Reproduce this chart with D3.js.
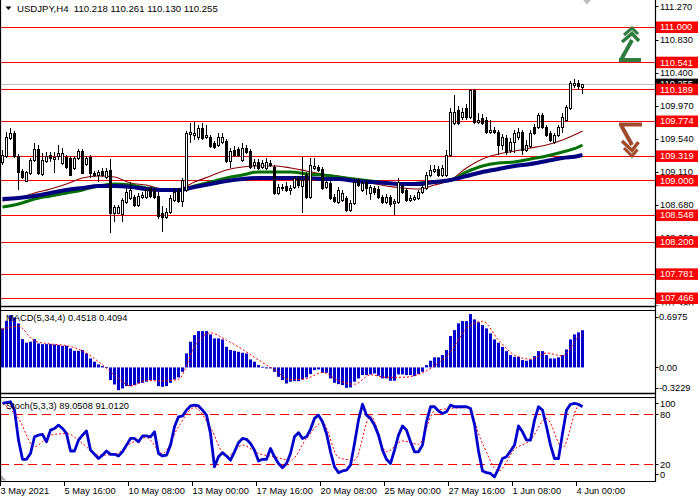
<!DOCTYPE html>
<html><head><meta charset="utf-8">
<script src="https://cdn.jsdelivr.net/npm/d3@7"></script>
<style>body{margin:0;background:#fff}svg{display:block}text{font-family:"Liberation Sans",Arial,sans-serif;font-size:9.3px}</style>
</head><body><svg id="c" width="700" height="500"></svg>
<script>
// ---------- DATA ----------
const titleText = "USDJPY,H4  110.218 110.261 110.130 110.255";
const macdTitle = "MACD(5,34,4) 0.4518 0.4094";
const stochTitle = "Stoch(5,3,3) 89.0508 91.0120";
const timeLabelIdx = [0,16,32,48,64,80,96,112,128,144];
const timeLabels = ["3 May 2021","5 May 16:00","10 May 08:00","13 May 00:00","17 May 16:00","20 May 08:00","25 May 00:00","27 May 16:00","1 Jun 08:00","4 Jun 00:00"];
const priceTicks = [111.270,110.830,110.400,109.970,109.540,109.110,108.680,108.250,107.380];
const levels = [111.000,110.541,110.189,109.774,109.319,109.000,108.548,108.200,107.781,107.466];
const lastPrice = 110.255;
const macdLabels = [0.6975,0.00,-0.3229];
const macdLabelText = ["0.6975","0.00","-0.3229"];
const stochLevels = [80,20];
const stochLabels = [100,80,20,0];

const openP = [109.240,109.318,109.553,109.618,109.318,109.123,108.992,109.097,109.266,109.409,
109.084,109.253,109.331,109.279,109.318,109.227,109.305,109.292,109.162,109.292,
109.383,109.214,109.305,109.097,109.070,109.123,109.044,109.136,108.575,108.575,
108.562,108.718,108.771,108.784,108.679,108.784,108.784,108.901,108.875,108.797,
108.575,108.523,108.588,108.744,108.875,108.731,108.875,109.605,109.592,109.566,
109.683,109.566,109.566,109.488,109.462,109.501,109.514,109.253,109.396,109.409,
109.266,109.422,109.383,109.201,109.240,109.175,109.162,109.227,109.175,108.836,
108.901,108.927,108.875,108.914,109.031,108.927,109.070,108.784,109.162,109.175,
109.149,108.914,108.966,108.784,108.718,108.744,108.771,108.614,108.705,109.005,
108.875,108.979,108.836,108.901,108.888,108.784,108.718,108.784,108.705,108.718,
108.927,108.875,108.744,108.757,108.771,108.849,108.901,109.070,109.123,109.149,
109.070,109.070,109.331,109.748,109.918,109.827,109.944,109.827,110.179,109.761,
109.814,109.787,109.631,109.657,109.631,109.462,109.553,109.396,109.501,109.566,
109.631,109.396,109.448,109.696,109.696,109.853,109.696,109.618,109.501,109.592,
109.696,109.787,109.944,110.244,110.270,110.218];
const highP = [109.396,109.631,109.683,109.644,109.344,109.149,109.123,109.292,109.488,109.462,
109.357,109.370,109.370,109.370,109.462,109.422,109.331,109.318,109.318,109.409,
109.409,109.318,109.331,109.123,109.136,109.162,109.162,109.279,108.679,108.679,
108.771,108.901,108.979,108.810,108.836,108.849,108.901,108.927,108.901,108.849,
108.666,108.640,108.810,108.901,108.901,109.031,109.644,109.748,109.761,109.722,
109.748,109.722,109.592,109.514,109.618,109.618,109.540,109.422,109.448,109.435,
109.488,109.462,109.409,109.279,109.279,109.266,109.292,109.266,109.201,108.953,
108.953,108.979,108.940,109.057,109.057,109.305,109.110,109.292,109.292,109.201,
109.175,109.005,108.992,108.823,108.914,108.875,108.797,108.744,109.031,109.031,
108.992,109.005,108.940,108.927,108.927,108.810,108.823,108.810,108.757,109.031,
108.953,108.901,108.810,108.810,108.875,108.953,109.110,109.201,109.201,109.188,
109.201,109.396,109.944,110.113,109.970,109.944,109.996,110.192,110.192,109.879,
109.866,109.827,109.787,109.696,109.657,109.605,109.592,109.553,109.657,109.683,
109.657,109.527,109.657,109.735,109.879,109.879,109.722,109.644,109.618,109.722,
109.879,109.983,110.296,110.322,110.309,110.261];
const lowP = [109.201,109.292,109.527,109.292,108.875,109.018,108.979,109.070,109.240,109.070,
109.057,109.227,109.240,109.097,109.266,109.201,109.149,109.057,109.136,109.266,
109.084,109.188,109.031,109.044,108.979,109.044,109.018,108.314,108.457,108.562,
108.457,108.692,108.744,108.653,108.653,108.757,108.757,108.771,108.757,108.497,
108.327,108.497,108.562,108.718,108.705,108.653,108.849,109.488,109.527,109.527,
109.527,109.540,109.422,109.409,109.435,109.475,109.227,109.162,109.305,109.305,
109.240,109.344,109.149,109.149,109.136,109.149,109.136,109.175,108.810,108.810,
108.862,108.849,108.810,108.888,108.901,108.575,108.757,108.757,109.136,109.110,
108.875,108.888,108.744,108.705,108.692,108.718,108.588,108.588,108.679,108.914,
108.849,108.810,108.744,108.810,108.757,108.692,108.692,108.653,108.549,108.692,
108.823,108.718,108.718,108.731,108.744,108.823,108.875,109.044,109.097,109.044,
109.044,109.044,109.305,109.722,109.722,109.787,109.787,109.800,109.735,109.735,
109.722,109.605,109.605,109.605,109.331,109.396,109.331,109.357,109.357,109.527,
109.331,109.370,109.422,109.592,109.670,109.670,109.566,109.501,109.475,109.566,
109.618,109.761,109.918,110.205,110.179,110.130];
const closeP = [109.331,109.566,109.618,109.318,109.110,109.044,109.110,109.266,109.409,109.097,
109.266,109.318,109.292,109.305,109.357,109.357,109.175,109.070,109.292,109.383,
109.097,109.292,109.097,109.070,109.110,109.070,109.123,108.575,108.653,108.653,
108.744,108.849,108.875,108.679,108.797,108.810,108.875,108.797,108.784,108.536,
108.523,108.588,108.771,108.849,108.731,109.005,109.618,109.631,109.618,109.683,
109.553,109.592,109.448,109.435,109.566,109.566,109.253,109.383,109.331,109.331,
109.422,109.370,109.175,109.240,109.162,109.227,109.240,109.201,108.836,108.914,
108.914,108.875,108.901,109.031,108.940,109.005,108.784,109.201,109.188,109.136,
108.901,108.979,108.771,108.731,108.875,108.836,108.614,108.705,108.979,108.940,
108.966,108.901,108.914,108.849,108.784,108.718,108.784,108.692,108.731,108.979,
108.849,108.744,108.771,108.784,108.849,108.914,109.070,109.136,109.149,109.070,
109.162,109.331,109.892,109.892,109.748,109.892,109.827,110.179,109.761,109.787,
109.748,109.631,109.657,109.631,109.462,109.566,109.370,109.501,109.618,109.631,
109.396,109.462,109.618,109.618,109.853,109.696,109.592,109.527,109.592,109.696,
109.827,109.957,110.270,110.270,110.231,110.255];

// moving averages sampled every 4 bars (bar index in maIdx)
const maIdx = [0,4,8,12,16,20,24,28,32,36,40,44,48,52,56,60,64,68,72,76,80,84,88,92,96,100,104,108,112,116,120,124,128,132,136,140,144,145];
const maFast = [108.731,108.771,108.836,108.888,108.953,109.031,109.057,109.044,108.966,108.940,
108.888,108.888,108.979,109.057,109.136,109.175,109.188,109.188,109.162,109.123,
109.084,109.057,109.018,108.966,108.927,108.901,108.888,108.940,109.005,109.162,
109.279,109.344,109.383,109.422,109.462,109.527,109.618,109.644];
const maMid = [108.653,108.692,108.757,108.797,108.836,108.875,108.927,108.953,108.940,108.901,
108.875,108.875,108.927,108.979,109.031,109.070,109.110,109.110,109.110,109.084,
109.070,109.044,109.018,108.992,108.966,108.953,108.966,108.979,109.005,109.110,
109.188,109.227,109.240,109.279,109.318,109.370,109.435,109.462];
const maSlow = [108.757,108.771,108.797,108.836,108.875,108.901,108.927,108.927,108.914,108.888,
108.875,108.875,108.914,108.953,108.992,109.018,109.031,109.031,109.031,109.031,
109.018,109.018,108.992,108.979,108.966,108.953,108.953,108.979,109.005,109.057,
109.110,109.149,109.188,109.214,109.253,109.292,109.318,109.331];

const macdHist = [0.474,0.566,0.635,0.607,0.534,0.344,0.300,0.312,0.344,0.291,
0.283,0.283,0.283,0.279,0.271,0.263,0.263,0.231,0.202,0.202,
0.211,0.170,0.109,0.069,0.036,0.016,0.006,-0.154,-0.207,-0.276,
-0.255,-0.227,-0.227,-0.215,-0.195,-0.187,-0.174,-0.154,-0.154,-0.227,
-0.235,-0.227,-0.187,-0.146,-0.122,-0.053,0.170,0.312,0.393,0.441,
0.441,0.441,0.401,0.352,0.352,0.340,0.251,0.211,0.202,0.190,
0.178,0.170,0.097,0.069,0.028,0.008,-0.012,-0.012,-0.053,-0.114,
-0.154,-0.195,-0.174,-0.167,-0.167,-0.146,-0.122,-0.081,-0.033,-0.025,
-0.065,-0.065,-0.134,-0.187,-0.203,-0.215,-0.248,-0.243,-0.174,-0.134,
-0.093,-0.093,-0.085,-0.073,-0.101,-0.134,-0.134,-0.162,-0.162,-0.085,
-0.085,-0.093,-0.093,-0.106,-0.081,-0.053,0.028,0.081,0.122,0.122,
0.150,0.211,0.381,0.453,0.535,0.563,0.563,0.648,0.583,0.550,
0.514,0.474,0.413,0.340,0.300,0.250,0.198,0.150,0.129,0.129,
0.089,0.081,0.097,0.137,0.198,0.198,0.150,0.109,0.109,0.122,
0.150,0.218,0.340,0.401,0.426,0.4518];
const macdSignal = [0.463,0.50,0.32,0.285,0.265,0.20,0.07,-0.092,-0.225,-0.16,
-0.165,-0.145,0.252,0.42,0.33,0.22,0.09,-0.03,-0.15,-0.135,
-0.06,-0.16,-0.205,-0.09,-0.12,-0.12,-0.085,0.02,0.19,0.47,
0.56,0.333,0.15,0.10,0.175,0.14,0.37,0.4094];

const stochMain = [93,94,95,85,49,26,26,33,53,55,
56,47,61,63,67,63,57,36,36,49,
55,60,37,32,27,31,36,32,32,30,
35,43,51,51,47,54,54,53,59,33,
30,31,43,65,77,78,85,90,91,90,
85,79,57,17,29,34,30,25,35,46,
51,50,45,37,24,26,26,39,29,21,
16,21,33,53,58,51,53,62,75,79,
71,57,35,17,10,12,13,19,45,73,
92,79,75,67,55,37,26,21,37,55,
66,61,47,35,35,43,71,89,89,84,
81,83,91,89,89,89,89,87,68,36,
12,10,9,5,15,27,29,36,43,66,
59,49,49,73,89,85,65,43,27,27,
57,85,92,93,92,89.0508];
const stochSignal = [93,75,41,55,57,45,31,32,45,52,
33,65,88,64,29,43,33,29,25,51,
70,28,25,78,35,48,44,84,87,88,
45,12,38,49,75,40,90,91.012];

// ---------- DRAW ----------
const svg = d3.select("#c");
const AX = 655.5;               // right axis line

const xs = d3.scaleLinear().domain([0,145]).range([2.5,582.5]);
const ys = d3.scaleLinear().domain([107.349,111.352]).range([307,0]);
const ym = d3.scaleLinear().domain([-0.3229,0.6975]).range([394,310]);
const yst = d3.scaleLinear().domain([0,100]).range([481,397.6]);

const defs = svg.append("defs");
defs.append("clipPath").attr("id","cm").append("rect").attr("x",1).attr("y",0).attr("width",AX-1).attr("height",306);
defs.append("clipPath").attr("id","cmr").append("rect").attr("x",AX).attr("y",0).attr("width",50).attr("height",305.5);
defs.append("clipPath").attr("id","cd").append("rect").attr("x",1).attr("y",311).attr("width",AX-1).attr("height",82);
defs.append("clipPath").attr("id","cs").append("rect").attr("x",1).attr("y",398).attr("width",AX-1).attr("height",82.5);

// ---- main panel
const gm = svg.append("g").attr("clip-path","url(#cm)");
gm.selectAll("line.lvl").data(levels).join("line")
  .attr("x1",0).attr("x2",AX).attr("y1",d=>Math.round(ys(d))+0.5).attr("y2",d=>Math.round(ys(d))+0.5)
  .attr("stroke","#ff0000").attr("stroke-width",1);
gm.append("line").attr("x1",0).attr("x2",AX).attr("y1",Math.round(ys(lastPrice))+0.5).attr("y2",Math.round(ys(lastPrice))+0.5)
  .attr("stroke","#c0c0c0").attr("stroke-width",1);

const maLine = d3.line().x((d,k)=>xs(maIdx[k])).y(d=>ys(d)).curve(d3.curveMonotoneX);
gm.append("path").attr("d",maLine(maFast)).attr("fill","none").attr("stroke","#8b0000").attr("stroke-width",1.1);
gm.append("path").attr("d",maLine(maMid)).attr("fill","none").attr("stroke","#007000").attr("stroke-width",3);
gm.append("path").attr("d",maLine(maSlow)).attr("fill","none").attr("stroke","#000080").attr("stroke-width",4);

const bars = d3.range(openP.length).map(i=>({i,o:openP[i],h:highP[i],l:lowP[i],c:closeP[i]}));
gm.selectAll("line.wick").data(bars).join("line")
  .attr("x1",d=>xs(d.i)).attr("x2",d=>xs(d.i))
  .attr("y1",d=>Math.round(ys(d.h))).attr("y2",d=>Math.round(ys(d.l)))
  .attr("stroke","#000").attr("stroke-width",1);
const bt = d=>Math.round(ys(Math.max(d.o,d.c)));
const bb = d=>Math.round(ys(Math.min(d.o,d.c)));
gm.selectAll("rect.body").data(bars).join("rect")
  .attr("x",d=>xs(d.i)-1.5).attr("width",3)
  .attr("y",bt).attr("height",d=>Math.max(1,bb(d)-bt(d)+1)).attr("fill","#000");
gm.selectAll("rect.inner").data(bars.filter(d=>d.c>d.o && bb(d)-bt(d)>=2)).join("rect")
  .attr("x",d=>xs(d.i)-0.5).attr("width",1)
  .attr("y",d=>bt(d)+1).attr("height",d=>bb(d)-bt(d)-1).attr("fill","#fff");

// gray chart-shift marker
svg.append("path").attr("d","M583,0 L591,0 L587,4.5 Z").attr("fill","#bdbdbd");

// arrows
const ga = svg.append("g").attr("fill","none").attr("stroke-linecap","butt").attr("stroke-linejoin","miter");
ga.append("path").attr("d","M619,60 L641,60").attr("stroke","#2e7d3e").attr("stroke-width",4);
ga.append("path").attr("d","M621.5,59 L632,40").attr("stroke","#2e7d3e").attr("stroke-width",4);
ga.append("path").attr("d","M622,42 L632,33.5 L639,41").attr("stroke","#2e7d3e").attr("stroke-width",3.5);
ga.append("path").attr("d","M624,35 L632,28 L638,34").attr("stroke","#2e7d3e").attr("stroke-width",3);
ga.append("path").attr("d","M619,124.5 L642,124.5").attr("stroke","#a04a2c").attr("stroke-width",4);
ga.append("path").attr("d","M621.5,126 L632,145").attr("stroke","#a04a2c").attr("stroke-width",4);
ga.append("path").attr("d","M622,141 L632,150.5 L638.5,142").attr("stroke","#a04a2c").attr("stroke-width",3.5);
ga.append("path").attr("d","M624,148 L632,156 L637.5,149.5").attr("stroke","#a04a2c").attr("stroke-width",3);

// right price axis labels
const gr = svg.append("g").attr("clip-path","url(#cmr)");
gr.selectAll("text.pt").data(priceTicks).join("text")
  .attr("x",660).attr("y",d=>ys(d)+3.3).text(d=>d.toFixed(3)).attr("fill","#000");
gr.selectAll("line.pt").data(priceTicks).join("line")
  .attr("x1",AX).attr("x2",AX+3).attr("y1",d=>Math.round(ys(d))+0.5).attr("y2",d=>Math.round(ys(d))+0.5).attr("stroke","#000");
// current price box
const yl = ys(lastPrice);
gr.append("rect").attr("x",656).attr("y",yl-5.5).attr("width",42).attr("height",11.5).attr("fill","#000");
gr.append("text").attr("x",660).attr("y",yl+3.3).attr("fill","#fff").text(lastPrice.toFixed(3));
// level boxes
gr.selectAll("rect.lv").data(levels).join("rect")
  .attr("x",656).attr("y",d=>ys(d)-5.5).attr("width",42).attr("height",11.5).attr("fill","#ff0000");
gr.selectAll("text.lv").data(levels).join("text")
  .attr("x",660).attr("y",d=>ys(d)+3.4).attr("fill","#fff").text(d=>d.toFixed(3));

// title
svg.append("path").attr("d","M5.5,6.5 L11.5,6.5 L8.5,10 Z").attr("fill","#000");
svg.append("text").attr("x",17).attr("y",12).text(titleText).attr("fill","#000").style("white-space","pre").style("font-size","9.6px");

// ---- MACD panel
const gd = svg.append("g").attr("clip-path","url(#cd)");
const z0 = ym(0);
gd.selectAll("rect.h").data(macdHist).join("rect")
  .attr("x",(d,i)=>xs(i)-1.5).attr("width",3)
  .attr("y",d=>Math.min(ym(d),z0)).attr("height",d=>Math.max(0.8,Math.abs(ym(d)-z0)))
  .attr("fill","#0000cd");
gd.append("path").attr("d",d3.line().x((d,k)=>xs(maIdx[k])).y(d=>ym(d)).curve(d3.curveMonotoneX)(macdSignal))
  .attr("fill","none").attr("stroke","#ff0000").attr("stroke-width",1).attr("stroke-dasharray","2,2");
svg.append("text").attr("x",6).attr("y",321).text(macdTitle).attr("fill","#000");
const macdLabY = [ym(macdLabels[0])+10.2, ym(macdLabels[1])+3.3, ym(macdLabels[2])-3];
svg.selectAll("text.ml").data(macdLabelText).join("text")
  .attr("x",659).attr("y",(d,i)=>macdLabY[i]).text(d=>d).attr("fill","#000");
svg.selectAll("line.ml").data(macdLabY).join("line")
  .attr("x1",AX).attr("x2",AX+3).attr("y1",d=>Math.round(d-3.3)+0.5).attr("y2",d=>Math.round(d-3.3)+0.5).attr("stroke","#000");

// ---- Stoch panel
const gs = svg.append("g").attr("clip-path","url(#cs)");
gs.selectAll("line.sl").data(stochLevels).join("line")
  .attr("x1",0).attr("x2",AX).attr("y1",d=>Math.round(yst(d))+0.5).attr("y2",d=>Math.round(yst(d))+0.5)
  .attr("stroke","#ff0000").attr("stroke-width",1.2).attr("stroke-dasharray","9,5");
gs.append("path").attr("d",d3.line().x((d,k)=>xs(maIdx[k])).y(d=>yst(d)).curve(d3.curveMonotoneX)(stochSignal))
  .attr("fill","none").attr("stroke","#ff0000").attr("stroke-width",1).attr("stroke-dasharray","2,2");
gs.append("path").attr("d",d3.line().x((d,i)=>xs(i)).y(d=>yst(d))(stochMain))
  .attr("fill","none").attr("stroke","#0000cd").attr("stroke-width",2.8).attr("stroke-linejoin","round");
svg.append("text").attr("x",6).attr("y",409).text(stochTitle).attr("fill","#000");
const stLabY = [yst(100)+9, yst(80)+3.3, yst(20)+3.3, yst(0)-3.4];
svg.selectAll("text.stl").data(stochLabels).join("text")
  .attr("x",660).attr("y",(d,i)=>stLabY[i]).text(d=>d).attr("fill","#000");
svg.selectAll("line.stl").data(stLabY).join("line")
  .attr("x1",AX).attr("x2",AX+3).attr("y1",d=>Math.round(d-3.3)+0.5).attr("y2",d=>Math.round(d-3.3)+0.5).attr("stroke","#000");
svg.append("path").attr("d","M1,475 L1,480.5 L6.5,480.5 Z").attr("fill","#b0b0b0");

// ---- frames
const fr = svg.append("g").attr("stroke","#000").attr("fill","none");
fr.append("line").attr("x1",0).attr("x2",AX).attr("y1",306.5).attr("y2",306.5).attr("stroke-width",1.5);
fr.append("line").attr("x1",0).attr("x2",AX).attr("y1",310.5).attr("y2",310.5).attr("stroke-width",1.2);
fr.append("line").attr("x1",0).attr("x2",AX).attr("y1",393.5).attr("y2",393.5).attr("stroke-width",1.5);
fr.append("line").attr("x1",0).attr("x2",AX).attr("y1",397.5).attr("y2",397.5).attr("stroke-width",1.2);
fr.append("line").attr("x1",0).attr("x2",AX).attr("y1",481.5).attr("y2",481.5).attr("stroke-width",1.2);
fr.append("line").attr("x1",0.5).attr("x2",0.5).attr("y1",0).attr("y2",482).attr("stroke-width",1.2);
fr.append("line").attr("x1",AX).attr("x2",AX).attr("y1",0).attr("y2",482).attr("stroke-width",1.2);

// ---- time axis
svg.selectAll("line.tt").data(timeLabelIdx).join("line")
  .attr("x1",d=>Math.round(xs(d))-2.5).attr("x2",d=>Math.round(xs(d))-2.5).attr("y1",482).attr("y2",486)
  .attr("stroke","#000");
svg.selectAll("text.tt").data(timeLabels).join("text")
  .attr("x",(d,i)=>xs(timeLabelIdx[i])-2).attr("y",494).text(d=>d).attr("fill","#000");
</script></body></html>
